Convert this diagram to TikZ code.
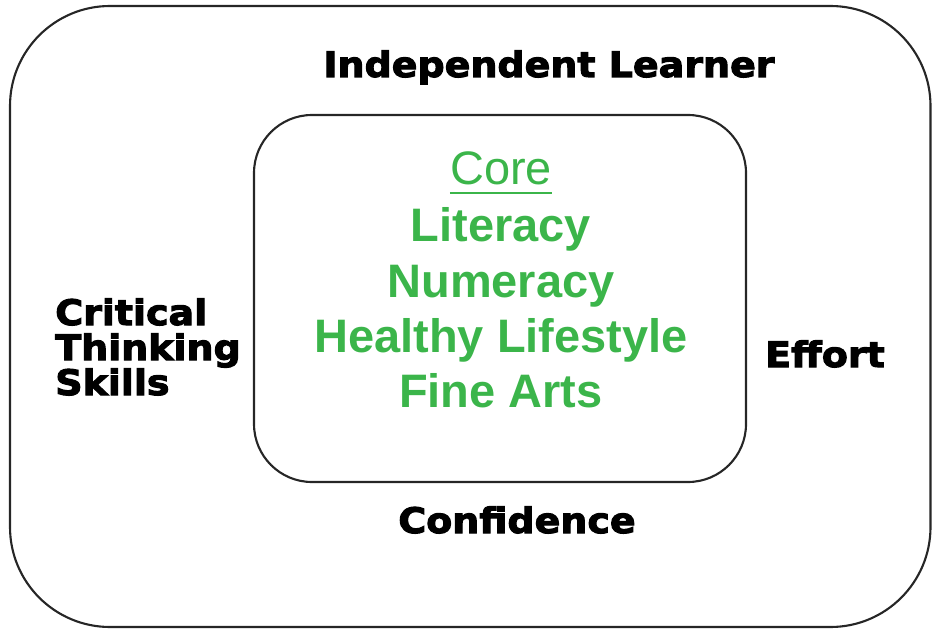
\documentclass[tikz,border=0pt]{standalone}
\usepackage{fontspec}
\newfontfamily\arialfont{Liberation Sans}
\newfontfamily\heavyfont{DejaVu Sans}[BoldFeatures={FakeBold=3, FakeStretch=1.08}]
\definecolor{coregreen}{RGB}{59,181,74}
\tikzset{
	frame/.style = {draw=black!85, line width=1.5pt},
	trait/.style = {font=\heavyfont\bfseries\fontsize{25}{30}\selectfont, inner sep=0pt},
	core/.style = {text=coregreen, font=\arialfont\bfseries\fontsize{33.4}{40}\selectfont, inner sep=0pt},
}

\begin{document}
\begin{tikzpicture}[x=0.025cm, y=-0.025cm]
		\useasboundingbox (0,0) rectangle (932,629);
		% 外枠・内枠
		\draw [frame, rounded corners=2.5cm] (10,6) rectangle (930.5,627);
		\draw [frame, rounded corners=1.45cm] (254,115) rectangle (746,482);
		% 外側の項目
		\node [trait, anchor=base] (learner) at (549,77) {Independent Learner};
		\node [trait, anchor=base west] (critical) at (55,325) {Critical};
		\node [trait, anchor=base west] (thinking) at (55,360) {Thinking};
		\node [trait, anchor=base west] (skills) at (55,395) {Skills};
		\node [trait, anchor=base] (effort) at (825,367) {Effort};
		\node [trait, anchor=base] (confidence) at (517,533) {Confidence};
		% 内側 (Core)
		\node [core, font=\arialfont\fontsize{33.4}{40}\selectfont, anchor=base] (core) at (501,185) {Core};
		\draw [coregreen, line width=1.6pt]
		([yshift=-5.8pt]core.base west) -- ([yshift=-5.8pt]core.base east)
		;
		\node [core, anchor=base] (literacy) at (501,242) {Literacy};
		\node [core, anchor=base] (numeracy) at (501,297) {Numeracy};
		\node [core, anchor=base] (healthy) at (501,352) {Healthy Lifestyle};
		\node [core, anchor=base] (arts) at (501,407) {Fine Arts};
	\end{tikzpicture}
\end{document}
